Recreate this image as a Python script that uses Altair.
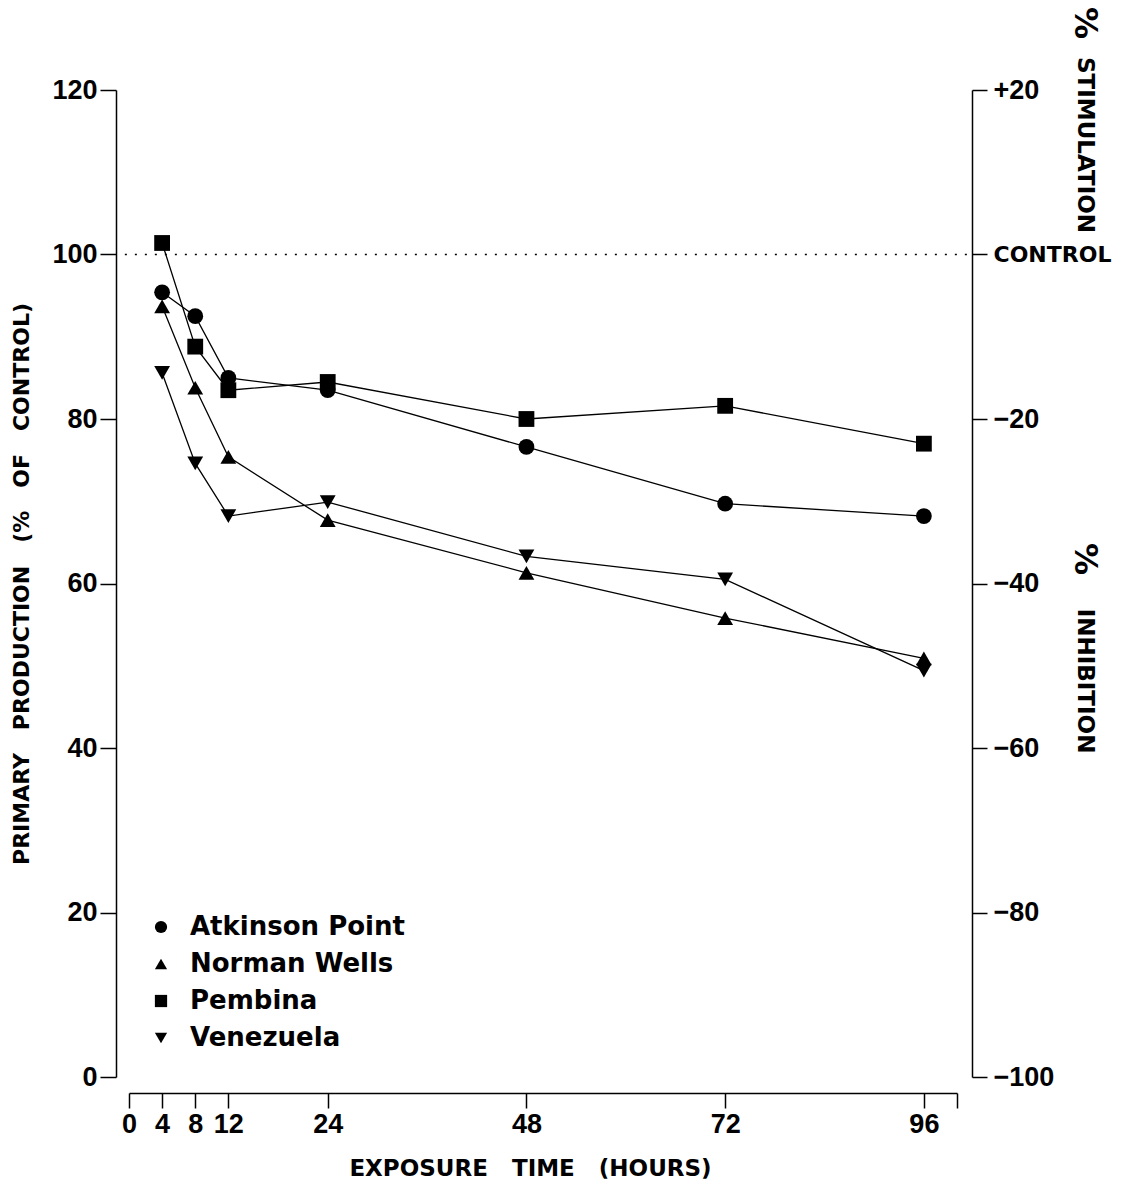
import altair as alt
import pandas as pd

# Exposure times (hours) and primary production as % of control
hours = [4, 8, 12, 24, 48, 72, 96]
series_names = ["Atkinson Point", "Norman Wells", "Pembina", "Venezuela"]
atkinson_point = [95.4, 92.5, 85.0, 83.5, 76.6, 69.7, 68.2]
norman_wells = [93.7, 83.8, 75.4, 67.7, 61.3, 55.8, 50.9]
pembina = [101.4, 88.8, 83.5, 84.5, 80.0, 81.6, 77.0]
venezuela = [85.6, 74.6, 68.2, 69.9, 63.3, 60.5, 49.4]
series_shapes = ["circle", "triangle-up", "square", "triangle-down"]

x_ticks = [0, 4, 8, 12, 24, 48, 72, 96, 100]
y_ticks = [0, 20, 40, 60, 80, 100, 120]
control_level = 100
control_span = [-0.5, 101.8]

rows = []
for name, values in zip(series_names,
                        [atkinson_point, norman_wells, pembina, venezuela]):
    for h, v in zip(hours, values):
        rows.append({"series": name, "hours": h, "production": v})
df = pd.DataFrame(rows)

control_df = pd.DataFrame({"level": [control_level],
                           "x0": [control_span[0]], "x1": [control_span[1]]})

TICK_FONT = "Liberation Sans"
TEXT_FONT = "DejaVu Sans"
GAP = "\u00a0\u00a0 "  # wide word gap in the axis titles

x_scale = alt.Scale(domain=[0, 100], nice=False, zero=False)
y_scale = alt.Scale(domain=[0, 120], nice=False)

x_axis = alt.Axis(
    values=x_ticks, labelExpr="datum.value == 100 ? '' : datum.label",
    offset=16, tickSize=15, tickWidth=1.5, tickColor="black",
    domainWidth=1.5, domainColor="black", grid=False,
    labelFont=TICK_FONT, labelFontSize=27, labelFontWeight="bold",
    labelColor="black", labelPadding=3, labelOverlap=False, labelFlush=False,
    labelBound=False,
    title=GAP.join(["EXPOSURE", "TIME", "(HOURS)"]), titleFont=TEXT_FONT,
    titleFontSize=23, titleFontWeight="bold", titleColor="black",
    titlePadding=20, titleX=401,
)

y_axis_left = alt.Axis(
    values=y_ticks, orient="left", offset=13, tickSize=16, tickWidth=1.5,
    tickColor="black", domainWidth=1.5, domainColor="black", grid=False,
    labelFont=TICK_FONT, labelFontSize=27, labelFontWeight="bold",
    labelColor="black", labelPadding=3, labelOverlap=False, labelBound=False,
    title=GAP.join(["PRIMARY", "PRODUCTION", "(%", "OF", "CONTROL)"]),
    titleFont=TEXT_FONT, titleFontSize=22, titleFontWeight="bold",
    titleColor="black", titlePadding=18,
)

y_axis_right = alt.Axis(
    values=y_ticks, orient="right", offset=15, tickSize=15, tickWidth=1.5,
    tickColor="black", domainWidth=1.5, domainColor="black", grid=False,
    labelExpr=("datum.value == 100 ? 'CONTROL' : (datum.value > 100 ? "
               "'+' + (datum.value - 100) : '\u2212' + (100 - datum.value))"),
    labelFont={"condition": {"test": "datum.value == 100", "value": TEXT_FONT},
               "value": TICK_FONT},
    labelFontSize={"condition": {"test": "datum.value == 100", "value": 22},
                   "value": 27},
    labelFontWeight="bold", labelColor="black", labelPadding=6,
    labelOverlap=False, labelBound=False, title=None,
)

base = alt.Chart(df)

lines = base.mark_line(color="black", strokeWidth=1.3).encode(
    x=alt.X("hours:Q", scale=x_scale, axis=x_axis),
    y=alt.Y("production:Q", scale=y_scale, axis=y_axis_left),
    detail="series:N",
)

points = base.mark_point(filled=True, color="black", opacity=1, size=250).encode(
    x=alt.X("hours:Q", scale=x_scale),
    y=alt.Y("production:Q", scale=y_scale, axis=None),
    shape=alt.Shape(
        "series:N",
        scale=alt.Scale(domain=series_names, range=series_shapes),
        legend=alt.Legend(
            title=None, orient="none", legendX=19, legendY=824, padding=0,
            symbolSize=150, symbolFillColor="black", symbolStrokeColor="black",
            symbolStrokeWidth=0, labelFont=TEXT_FONT, labelFontSize=26,
            labelFontWeight="bold", labelColor="black", labelOffset=16,
            rowPadding=11, labelLimit=400,
        ),
    ),
)

control_rule = alt.Chart(control_df).mark_rule(
    color="black", strokeWidth=1.6, strokeDash=[2, 8]
).encode(
    x=alt.X("x0:Q", scale=x_scale),
    x2="x1:Q",
    y=alt.Y("level:Q", scale=y_scale, axis=y_axis_right),
)

# Right-hand titles, read top to bottom
def side_text(text, y_px, size):
    return alt.Chart(pd.DataFrame({"t": [text]})).mark_text(
        angle=90, align="center", baseline="middle", font=TEXT_FONT,
        fontSize=size, fontWeight="bold", color="black",
    ).encode(text="t:N", x=alt.value(956), y=alt.value(y_px))

side_titles = (side_text("%", -67, 32) + side_text("STIMULATION", 55, 23)
               + side_text("%", 469, 32) + side_text("INHIBITION", 591, 23))

chart = alt.layer(lines, points, control_rule, side_titles).resolve_axis(
    y="independent"
).properties(
    width=828, height=987, background="white",
    autosize=alt.AutoSizeParams(type="none"),
    padding={"left": 129, "top": 90, "right": 174, "bottom": 109},
).configure_view(stroke=None)

chart.save("out.html", embed_options={"renderer": "svg", "actions": False})
